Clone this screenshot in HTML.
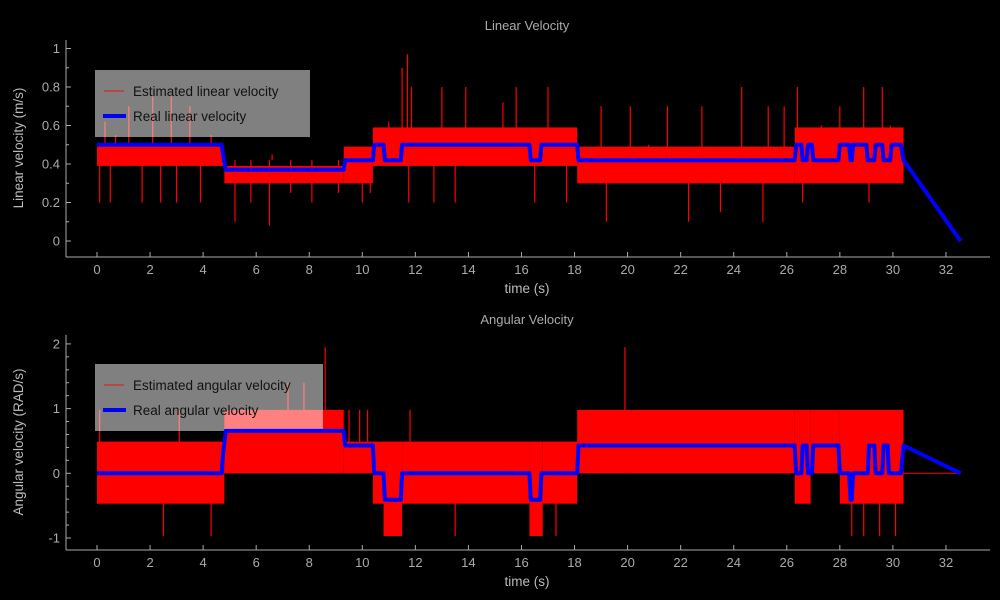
<!DOCTYPE html>
<html><head><meta charset="utf-8"><style>
html,body{margin:0;padding:0;background:#000;}
svg{display:block;font-family:"Liberation Sans","DejaVu Sans",sans-serif;}
</style></head><body>
<svg id="chart" width="1000" height="600" viewBox="0 0 1000 600" xmlns="http://www.w3.org/2000/svg">
<rect x="0" y="0" width="1000" height="600" fill="#000"/>
<g id="top"></g>
<g id="bot"></g>
</svg>
<script>
// ---- data: linear velocity ----
const xTicks = [0,2,4,6,8,10,12,14,16,18,20,22,24,26,28,30,32];
const linYTicks = [0,0.2,0.4,0.6,0.8,1];
const linYTickLabels = ["0","0.2","0.4","0.6","0.8","1"];
const linBandStart = [0,4.8,9.3,10.4,16.3,18.1,26.3];
const linBandEnd   = [4.75,9.3,10.4,16.3,18.1,26.3,30.4];
const linBandLow   = [0.39,0.30,0.30,0.39,0.39,0.30,0.30];
const linBandHigh  = [0.50,0.39,0.49,0.59,0.59,0.49,0.59];
const linSpikeT = [0.1,0.3,0.5,0.7,1.2,1.7,2.1,2.4,2.8,3.0,3.5,3.9,4.3,5.2,5.8,6.5,6.6,7.3,8.1,9.1,10.0,10.3,11.0,11.5,11.7,11.75,11.85,12.1,12.7,13.0,13.5,13.9,15.3,15.8,16.5,17.0,17.7,19.0,19.2,20.1,20.8,21.5,22.3,22.8,23.5,24.3,25.1,25.3,25.9,26.4,26.6,27.3,28.0,28.4,28.9,29.1,29.6,29.9,30.3];
const linSpikeV = [0.20,0.62,0.20,0.55,0.70,0.20,0.75,0.20,0.75,0.20,0.70,0.20,0.55,0.10,0.20,0.08,0.45,0.25,0.20,0.25,0.20,0.25,0.62,0.90,0.97,0.20,0.80,0.45,0.20,0.80,0.20,0.80,0.72,0.80,0.20,0.80,0.20,0.70,0.10,0.70,0.50,0.70,0.10,0.70,0.15,0.80,0.10,0.70,0.70,0.80,0.20,0.60,0.70,0.30,0.80,0.20,0.80,0.60,0.30];
const linRealT = [0,4.7,4.75,4.85,9.3,9.35,10.4,10.45,10.8,10.85,11.45,11.5,16.3,16.35,16.7,16.75,18.1,18.15,26.3,26.35,26.55,26.6,26.75,26.8,26.95,27.0,27.95,28.0,28.35,28.4,28.45,28.5,29.0,29.05,29.3,29.35,29.6,29.65,29.9,29.95,30.3,30.4,32.55];
const linRealV = [0.5,0.5,0.45,0.37,0.37,0.42,0.42,0.5,0.5,0.42,0.42,0.5,0.5,0.42,0.42,0.5,0.5,0.42,0.42,0.5,0.5,0.42,0.42,0.5,0.5,0.42,0.42,0.5,0.5,0.42,0.42,0.5,0.5,0.42,0.42,0.5,0.5,0.42,0.42,0.5,0.5,0.42,0.0];
// ---- data: angular velocity ----
const angYTicks = [-1,0,1,2];
const angYTickLabels = ["-1","0","1","2"];
const angBandStart = [0,4.8,9.3,10.4,10.8,11.5,16.3,16.8,18.1,26.3,26.9,28.0];
const angBandEnd   = [4.8,9.3,10.4,10.8,11.5,16.3,16.8,18.1,26.3,26.9,28.0,30.4];
const angBandLow   = [-0.47,0.0,0.0,-0.47,-0.97,-0.47,-0.97,-0.47,0.0,-0.47,0.0,-0.47];
const angBandHigh  = [0.49,0.98,0.49,0.49,0.49,0.49,0.49,0.49,0.98,0.98,0.98,0.98];
const angSpikeT = [0.1,2.5,3.1,4.3,7.2,7.8,8.6,9.5,9.9,10.2,11.8,13.5,17.3,19.9,28.45,28.9,29.5,30.1];
const angSpikeV = [0.98,-0.97,0.98,-0.97,1.4,1.4,1.95,0.98,0.98,0.98,0.98,-0.97,-0.97,1.95,-0.97,-0.97,-0.97,-0.97];
const angRealT = [0,4.7,4.75,4.85,9.3,9.35,10.4,10.45,10.8,10.85,11.45,11.5,16.3,16.35,16.7,16.75,18.1,18.15,26.3,26.35,26.55,26.6,26.75,26.8,26.95,27.0,27.95,28.0,28.35,28.4,28.45,28.5,29.05,29.1,29.3,29.35,29.6,29.65,29.8,29.85,30.3,30.4,32.55];
const angRealV = [0,0,0.3,0.655,0.655,0.43,0.43,0,0,-0.41,-0.41,0,0,-0.41,-0.41,0,0,0.43,0.43,0,0,0.43,0.43,0,0,0.43,0.43,0,0,-0.41,-0.41,0,0,0.43,0.43,0,0,0.43,0.43,0,0,0.43,0];

const NS = "http://www.w3.org/2000/svg";
function mk(parent, tag, attrs, text){
  const el = document.createElementNS(NS, tag);
  for (const k in attrs) el.setAttribute(k, attrs[k]);
  if (text !== undefined) el.textContent = text;
  parent.appendChild(el);
  return el;
}
function panel(g, cfg){
  const X = t => 97 + t * 26.53;
  const Y = v => cfg.y0 - v * cfg.ys;
  const axisCol = "#aaa";
  let t = mk(g,"text",{x:527,y:cfg.titleY,"text-anchor":"middle",fill:"#aaa","font-size":"13"},cfg.title);
  
  
  for (let i=0;i<cfg.bs.length;i++){
    const r = mk(g,"rect",{x:X(cfg.bs[i]),y:Y(cfg.bh[i]),width:X(cfg.be[i])-X(cfg.bs[i]),height:Y(cfg.bl[i])-Y(cfg.bh[i]),fill:"#f00"});
    
    
  }
  for (let i=0;i<cfg.st.length;i++){
    const l = mk(g,"line",{x1:X(cfg.st[i]),x2:X(cfg.st[i]),y1:Y(cfg.mid),y2:Y(cfg.sv[i]),stroke:"#f00","stroke-width":"1.2"});
    
    
  }
  const n = cfg.rt.length;
  const tail = mk(g,"line",{x1:X(cfg.rt[n-2]),y1:Y(cfg.tailV),x2:X(cfg.rt[n-1]),y2:Y(cfg.rv[n-1]),stroke:"#f00","stroke-width":"1"});
  
  
  const lb = mk(g,"rect",{x:95,y:cfg.legY,width:cfg.legW,height:67,fill:"rgba(255,255,255,0.5)"});
  
  
  const le1 = mk(g,"line",{x1:104,x2:124,y1:cfg.legY+21,y2:cfg.legY+21,stroke:"#c33","stroke-width":"1.5"});
  
  
  const lt1 = mk(g,"text",{x:133,y:cfg.legY+26,fill:"#111","font-size":"13.5"},cfg.leg1);
  
  
  const le2 = mk(g,"line",{x1:103,x2:126,y1:cfg.legY+46,y2:cfg.legY+46,stroke:"#00f","stroke-width":"4"});
  
  
  const lt2 = mk(g,"text",{x:133,y:cfg.legY+51,fill:"#111","font-size":"13.5"},cfg.leg2);
  
  
  const pts = cfg.rt.map((tt,i)=>X(tt).toFixed(1)+","+Y(cfg.rv[i]).toFixed(1)).join(" ");
  const pl = mk(g,"polyline",{points:pts,fill:"none",stroke:"#00f","stroke-width":"4","stroke-linejoin":"round"});
  
  
  const ya = mk(g,"line",{x1:66,x2:66,y1:cfg.axTop,y2:cfg.axBot,stroke:axisCol,"stroke-width":"1"});
  
  
  const xa = mk(g,"line",{x1:66,x2:990,y1:cfg.axBot,y2:cfg.axBot,stroke:axisCol,"stroke-width":"1"});
  
  
  for (const v of cfg.minor){
    mk(g,"line",{x1:66,x2:69,y1:Y(v),y2:Y(v),stroke:axisCol});
  }
  cfg.yt.forEach((v,i)=>{
    mk(g,"line",{x1:66,x2:71,y1:Y(v),y2:Y(v),stroke:axisCol});
    const tl = mk(g,"text",{x:60,y:Y(v)+4.5,"text-anchor":"end",fill:"#aaa","font-size":"13"},cfg.ytl[i]);
    
    
  });
  xTicks.forEach(v=>{
    mk(g,"line",{x1:X(v),x2:X(v),y1:cfg.axBot,y2:cfg.axBot-5,stroke:axisCol});
    const tl = mk(g,"text",{x:X(v),y:cfg.axBot+17,"text-anchor":"middle",fill:"#aaa","font-size":"13"},String(v));
    
    
  });
  const xl = mk(g,"text",{x:527,y:cfg.axBot+36,"text-anchor":"middle",fill:"#bbb","font-size":"13.5"},"time (s)");
  
  
  const yl = mk(g,"text",{x:0,y:0,"text-anchor":"middle",fill:"#bbb","font-size":"13.5",transform:"translate(23,"+cfg.ylabY+") rotate(-90)"},cfg.ylab);
  
  
}
panel(document.getElementById('top'),{
  title:"Linear Velocity",titleY:30,y0:241,ys:192.5,axTop:40,axBot:257,
  bs:linBandStart,be:linBandEnd,bl:linBandLow,bh:linBandHigh,
  st:linSpikeT,sv:linSpikeV,mid:0.42,rt:linRealT,rv:linRealV,tailV:0.42,
  legY:70,legW:215,leg1:"Estimated linear velocity",leg2:"Real linear velocity",
  yt:linYTicks,ytl:linYTickLabels,minor:[0.1,0.3,0.5,0.7,0.9],
  ylab:"Linear velocity (m/s)",ylabY:148
});
panel(document.getElementById('bot'),{
  title:"Angular Velocity",titleY:324,y0:473.3,ys:64.7,axTop:335,axBot:550,
  bs:angBandStart,be:angBandEnd,bl:angBandLow,bh:angBandHigh,
  st:angSpikeT,sv:angSpikeV,mid:0.0,rt:angRealT,rv:angRealV,tailV:0,
  legY:364,legW:228,leg1:"Estimated angular velocity",leg2:"Real angular velocity",
  yt:angYTicks,ytl:angYTickLabels,minor:[-0.8,-0.6,-0.4,-0.2,0.2,0.4,0.6,0.8,1.2,1.4,1.6,1.8],
  ylab:"Angular velocity (RAD/s)",ylabY:442
});
</script>
</body></html>
